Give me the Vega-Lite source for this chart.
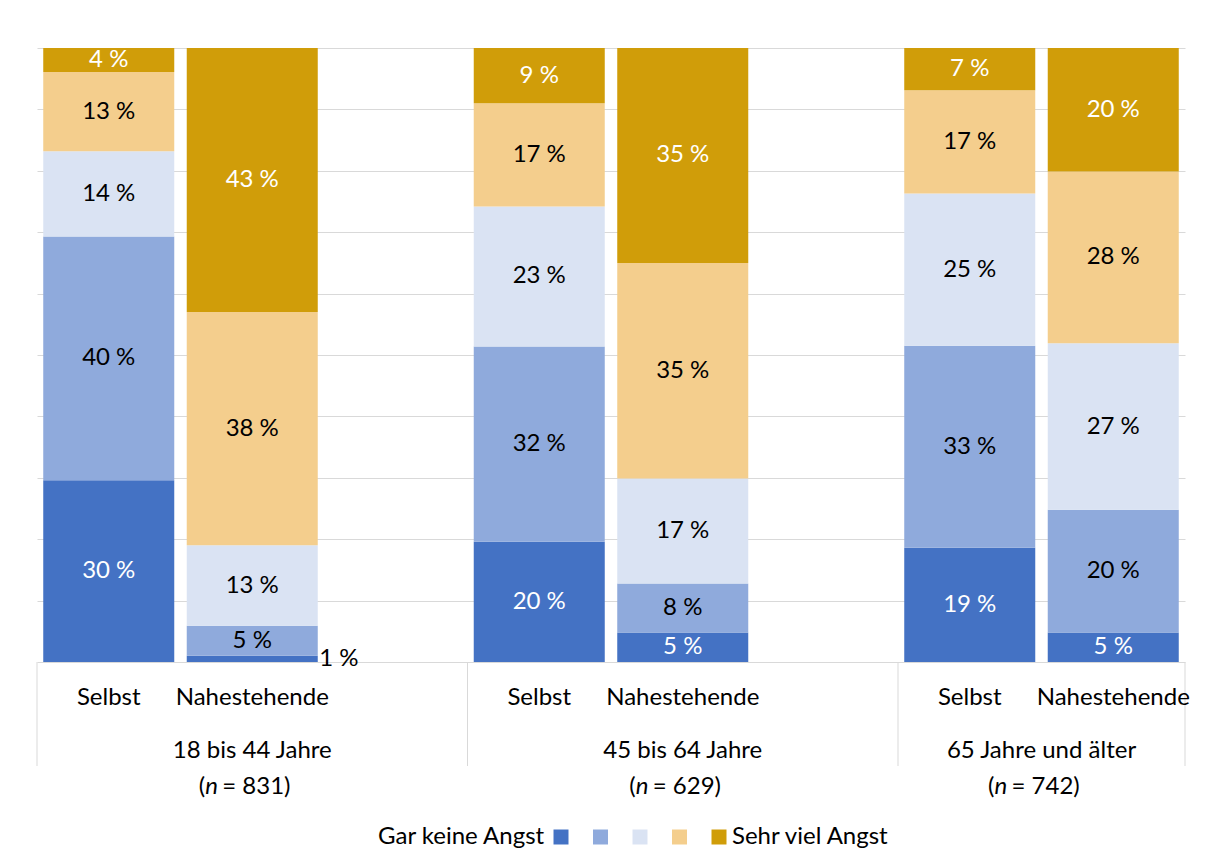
{
  "$schema": "https://vega.github.io/schema/vega-lite/v6.json",
  "padding": {"left": 36, "top": 47, "right": 0, "bottom": 0},
  "background": "white",
  "bounds": "flush",
  "datasets": {
    "bars": [
      {"slot": "A1", "group": "18 bis 44 Jahre", "person": "Selbst", "level": 1, "value": 29.6},
      {"slot": "A1", "group": "18 bis 44 Jahre", "person": "Selbst", "level": 2, "value": 39.7},
      {"slot": "A1", "group": "18 bis 44 Jahre", "person": "Selbst", "level": 3, "value": 13.9},
      {"slot": "A1", "group": "18 bis 44 Jahre", "person": "Selbst", "level": 4, "value": 12.9},
      {"slot": "A1", "group": "18 bis 44 Jahre", "person": "Selbst", "level": 5, "value": 3.9},
      {"slot": "A2", "group": "18 bis 44 Jahre", "person": "Nahestehende", "level": 1, "value": 1.0},
      {"slot": "A2", "group": "18 bis 44 Jahre", "person": "Nahestehende", "level": 2, "value": 4.9},
      {"slot": "A2", "group": "18 bis 44 Jahre", "person": "Nahestehende", "level": 3, "value": 13.1},
      {"slot": "A2", "group": "18 bis 44 Jahre", "person": "Nahestehende", "level": 4, "value": 38.0},
      {"slot": "A2", "group": "18 bis 44 Jahre", "person": "Nahestehende", "level": 5, "value": 43.0},
      {"slot": "B1", "group": "45 bis 64 Jahre", "person": "Selbst", "level": 1, "value": 19.6},
      {"slot": "B1", "group": "45 bis 64 Jahre", "person": "Selbst", "level": 2, "value": 31.8},
      {"slot": "B1", "group": "45 bis 64 Jahre", "person": "Selbst", "level": 3, "value": 22.8},
      {"slot": "B1", "group": "45 bis 64 Jahre", "person": "Selbst", "level": 4, "value": 16.8},
      {"slot": "B1", "group": "45 bis 64 Jahre", "person": "Selbst", "level": 5, "value": 9.0},
      {"slot": "B2", "group": "45 bis 64 Jahre", "person": "Nahestehende", "level": 1, "value": 4.8},
      {"slot": "B2", "group": "45 bis 64 Jahre", "person": "Nahestehende", "level": 2, "value": 8.0},
      {"slot": "B2", "group": "45 bis 64 Jahre", "person": "Nahestehende", "level": 3, "value": 17.1},
      {"slot": "B2", "group": "45 bis 64 Jahre", "person": "Nahestehende", "level": 4, "value": 35.1},
      {"slot": "B2", "group": "45 bis 64 Jahre", "person": "Nahestehende", "level": 5, "value": 35.0},
      {"slot": "C1", "group": "65 Jahre und älter", "person": "Selbst", "level": 1, "value": 18.6},
      {"slot": "C1", "group": "65 Jahre und älter", "person": "Selbst", "level": 2, "value": 32.9},
      {"slot": "C1", "group": "65 Jahre und älter", "person": "Selbst", "level": 3, "value": 24.8},
      {"slot": "C1", "group": "65 Jahre und älter", "person": "Selbst", "level": 4, "value": 16.8},
      {"slot": "C1", "group": "65 Jahre und älter", "person": "Selbst", "level": 5, "value": 6.9},
      {"slot": "C2", "group": "65 Jahre und älter", "person": "Nahestehende", "level": 1, "value": 4.8},
      {"slot": "C2", "group": "65 Jahre und älter", "person": "Nahestehende", "level": 2, "value": 20.0},
      {"slot": "C2", "group": "65 Jahre und älter", "person": "Nahestehende", "level": 3, "value": 27.1},
      {"slot": "C2", "group": "65 Jahre und älter", "person": "Nahestehende", "level": 4, "value": 28.0},
      {"slot": "C2", "group": "65 Jahre und älter", "person": "Nahestehende", "level": 5, "value": 20.1}
    ],
    "cats": [
      {"slot": "A1", "label": "Selbst"},
      {"slot": "A2", "label": "Nahestehende"},
      {"slot": "B1", "label": "Selbst"},
      {"slot": "B2", "label": "Nahestehende"},
      {"slot": "C1", "label": "Selbst"},
      {"slot": "C2", "label": "Nahestehende"}
    ],
    "groups": [
      {"slot": "A2", "grp": "18 bis 44 Jahre", "nrest": "= 831)"},
      {"slot": "B2", "grp": "45 bis 64 Jahre", "nrest": "= 629)"},
      {"slot": "C1", "grp": "65 Jahre und älter", "nrest": "= 742)"}
    ],
    "seps": [{"slot": "A1"}, {"slot": "B1"}, {"slot": "C1"}],
    "sepEnd": [{"slot": "C2"}]
  },
  "config": {
    "view": {"stroke": null},
    "font": "Lato",
    "locale": {"number": {"decimal": ",", "thousands": ".", "grouping": [3], "currency": ["", " %"]}},
    "text": {"font": "Lato", "fontSize": 24}
  },
  "spacing": 0,
  "vconcat": [
    {
      "width": 1148,
      "height": 614,
      "data": {"name": "bars"},
      "encoding": {
        "x": {
          "field": "slot", "type": "nominal",
          "scale": {"type": "band", "domain": ["A1", "A2", "A3", "B1", "B2", "B3", "C1", "C2"], "paddingInner": 0, "paddingOuter": 0},
          "axis": null
        },
        "y": {
          "field": "value", "type": "quantitative", "stack": "zero",
          "scale": {"domain": [0, 100], "nice": false},
          "axis": {"values": [0, 10, 20, 30, 40, 50, 60, 70, 80, 90, 100], "labels": false, "ticks": false, "domain": false, "grid": true, "gridColor": "#D9D9D9", "gridWidth": 1, "title": null}
        },
        "order": {"field": "level", "type": "quantitative", "sort": "ascending"}
      },
      "layer": [
        {
          "mark": {"type": "bar", "width": {"band": 0.913}},
          "encoding": {
            "color": {
              "field": "level", "type": "nominal",
              "scale": {"domain": [1, 2, 3, 4, 5], "range": ["#4472C4", "#8FAADC", "#DAE3F3", "#F4CE8D", "#D09D09"]},
              "legend": {
                "orient": "none", "legendX": 341, "legendY": 777, "direction": "horizontal",
                "title": "Gar keine Angst", "titleOrient": "left",
                "titleFont": "Lato", "titleFontSize": 24, "titleFontWeight": "normal", "titleColor": "black", "titlePadding": 3,
                "labelFont": "Lato", "labelFontSize": 24, "labelColor": "black", "labelOffset": 1,
                "symbolType": "square", "symbolSize": 225, "symbolStrokeWidth": 0,
                "columnPadding": 14.5,
                "labelExpr": "datum.value == 5 ? 'Sehr viel Angst' : ''"
              }
            }
          }
        },
        {
          "mark": {"type": "text", "baseline": "middle", "fontSize": 24},
          "encoding": {
            "y": {"field": "value", "type": "quantitative", "stack": "zero", "bandPosition": 0.5},
            "detail": {"field": "level"},
            "text": {"condition": {"test": "datum.value < 2", "value": ""}, "field": "value", "type": "quantitative", "format": "$.0f"},
            "color": {"condition": {"test": "datum.level == 1 || datum.level == 5", "value": "white"}, "value": "black"}
          }
        },
        {
          "mark": {"type": "text", "baseline": "middle", "align": "left", "dx": 67, "fontSize": 24, "color": "black"},
          "encoding": {
            "y": {"field": "value", "type": "quantitative", "stack": "zero", "bandPosition": 0.5},
            "detail": {"field": "level"},
            "text": {"condition": {"test": "datum.value >= 2", "value": ""}, "field": "value", "type": "quantitative", "format": "$.0f"}
          }
        }
      ]
    },
    {
      "width": 1148,
      "height": 104,
      "layer": [
        {
          "data": {"name": "seps"},
          "mark": {"type": "rule", "color": "#D9D9D9", "strokeWidth": 1},
          "encoding": {
            "x": {"field": "slot", "type": "nominal", "bandPosition": 0,
              "scale": {"type": "band", "domain": ["A1", "A2", "A3", "B1", "B2", "B3", "C1", "C2"], "paddingInner": 0, "paddingOuter": 0}, "axis": null}
          }
        },
        {
          "data": {"name": "sepEnd"},
          "mark": {"type": "rule", "color": "#D9D9D9", "strokeWidth": 1},
          "encoding": {
            "x": {"field": "slot", "type": "nominal", "bandPosition": 1, "scale": {"type": "band"}, "axis": null}
          }
        },
        {
          "data": {"name": "cats"},
          "mark": {"type": "text", "baseline": "alphabetic", "dy": 17, "fontSize": 24, "color": "black"},
          "encoding": {
            "x": {"field": "slot", "type": "nominal", "scale": {"type": "band"}, "axis": null},
            "y": {"datum": "cat", "type": "nominal", "scale": {"domain": ["cat", "grp"]}, "axis": null},
            "text": {"field": "label"}
          }
        },
        {
          "data": {"name": "groups"},
          "transform": [{"filter": "datum.slot != 'C1'"}],
          "mark": {"type": "text", "baseline": "alphabetic", "dy": 18, "fontSize": 24, "color": "black"},
          "encoding": {
            "x": {"field": "slot", "type": "nominal", "scale": {"type": "band"}, "axis": null},
            "y": {"datum": "grp", "type": "nominal", "axis": null},
            "text": {"field": "grp"}
          }
        },
        {
          "data": {"name": "groups"},
          "transform": [{"filter": "datum.slot == 'C1'"}],
          "mark": {"type": "text", "baseline": "alphabetic", "dy": 18, "fontSize": 24, "color": "black"},
          "encoding": {
            "x": {"field": "slot", "type": "nominal", "bandPosition": 1, "scale": {"type": "band"}, "axis": null},
            "y": {"datum": "grp", "type": "nominal", "axis": null},
            "text": {"field": "grp"}
          }
        },
        {
          "data": {"name": "groups"},
          "transform": [{"filter": "datum.slot != 'C1'"}],
          "mark": {"type": "text", "baseline": "alphabetic", "dy": 54, "dx": -47, "align": "right", "fontSize": 24, "color": "black", "text": "("},
          "encoding": {
            "x": {"field": "slot", "type": "nominal", "scale": {"type": "band"}, "axis": null},
            "y": {"datum": "grp", "type": "nominal", "axis": null}
          }
        },
        {
          "data": {"name": "groups"},
          "transform": [{"filter": "datum.slot != 'C1'"}],
          "mark": {"type": "text", "baseline": "alphabetic", "dy": 54, "dx": -47, "align": "left", "fontSize": 24, "fontStyle": "italic", "color": "black", "text": "n"},
          "encoding": {
            "x": {"field": "slot", "type": "nominal", "scale": {"type": "band"}, "axis": null},
            "y": {"datum": "grp", "type": "nominal", "axis": null}
          }
        },
        {
          "data": {"name": "groups"},
          "transform": [{"filter": "datum.slot != 'C1'"}],
          "mark": {"type": "text", "baseline": "alphabetic", "dy": 54, "dx": -30, "align": "left", "fontSize": 24, "color": "black"},
          "encoding": {
            "x": {"field": "slot", "type": "nominal", "scale": {"type": "band"}, "axis": null},
            "y": {"datum": "grp", "type": "nominal", "axis": null},
            "text": {"field": "nrest"}
          }
        },
        {
          "data": {"name": "groups"},
          "transform": [{"filter": "datum.slot == 'C1'"}],
          "mark": {"type": "text", "baseline": "alphabetic", "dy": 54, "dx": -47, "align": "right", "fontSize": 24, "color": "black", "text": "("},
          "encoding": {
            "x": {"field": "slot", "type": "nominal", "bandPosition": 1, "scale": {"type": "band"}, "axis": null},
            "y": {"datum": "grp", "type": "nominal", "axis": null}
          }
        },
        {
          "data": {"name": "groups"},
          "transform": [{"filter": "datum.slot == 'C1'"}],
          "mark": {"type": "text", "baseline": "alphabetic", "dy": 54, "dx": -47, "align": "left", "fontSize": 24, "fontStyle": "italic", "color": "black", "text": "n"},
          "encoding": {
            "x": {"field": "slot", "type": "nominal", "bandPosition": 1, "scale": {"type": "band"}, "axis": null},
            "y": {"datum": "grp", "type": "nominal", "axis": null}
          }
        },
        {
          "data": {"name": "groups"},
          "transform": [{"filter": "datum.slot == 'C1'"}],
          "mark": {"type": "text", "baseline": "alphabetic", "dy": 54, "dx": -30, "align": "left", "fontSize": 24, "color": "black"},
          "encoding": {
            "x": {"field": "slot", "type": "nominal", "bandPosition": 1, "scale": {"type": "band"}, "axis": null},
            "y": {"datum": "grp", "type": "nominal", "axis": null},
            "text": {"field": "nrest"}
          }
        }
      ]
    }
  ]
}
